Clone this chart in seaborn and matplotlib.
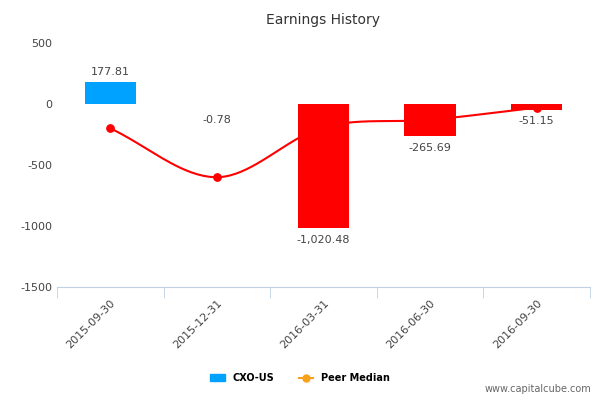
import numpy as np
import pandas as pd
import matplotlib.pyplot as plt
import seaborn as sns
from matplotlib.lines import Line2D
from matplotlib.patches import Patch

dates = ["2015-09-30", "2015-12-31", "2016-03-31", "2016-06-30", "2016-09-30"]
earnings = [177.81, -0.78, -1020.48, -265.69, -51.15]
peer_median = [-200, -600, -190, -130, -30]
peer_marked = [True, True, False, False, True]

df = pd.DataFrame({"date": dates, "earnings": earnings, "peer": peer_median})
df["pos"] = np.arange(len(df))


def smooth(xs, ys, n=40):
    # catmull-rom curve through the points
    xs = np.asarray(xs, float)
    ys = np.asarray(ys, float)
    px = np.r_[2 * xs[0] - xs[1], xs, 2 * xs[-1] - xs[-2]]
    py = np.r_[2 * ys[0] - ys[1], ys, 2 * ys[-1] - ys[-2]]
    outx, outy = [], []
    t = np.linspace(0, 1, n)
    for i in range(1, len(px) - 2):
        for p, out in ((px, outx), (py, outy)):
            p0, p1, p2, p3 = p[i - 1], p[i], p[i + 1], p[i + 2]
            out.extend(0.5 * (2 * p1 + (-p0 + p2) * t
                              + (2 * p0 - 5 * p1 + 4 * p2 - p3) * t ** 2
                              + (-p0 + 3 * p1 - 3 * p2 + p3) * t ** 3))
    return outx, outy


fig = plt.figure(figsize=(6, 4), dpi=100)
ax = fig.add_axes([0.095, 0.2825, 0.888, 0.61])

colors = ["#00a2ff" if v >= 0 else "#ff0000" for v in earnings]
sns.barplot(data=df, x="pos", y="earnings", hue="pos", palette=colors,
            legend=False, width=0.48, ax=ax, saturation=1)

sx, sy = smooth(df["pos"], df["peer"])
ax.plot(sx, sy, color="#ff0000", lw=1.5, zorder=3)
mk = df[peer_marked]
ax.scatter(mk["pos"], mk["peer"], color="#ff0000", s=28, zorder=4)

for x, v in zip(df["pos"], earnings):
    lbl = f"{v:,.2f}"
    if v >= 0:
        ax.text(x, v + 40, lbl, ha="center", va="bottom", fontsize=8, color="#444444")
    else:
        ax.text(x, min(v, -40) - 50, lbl, ha="center", va="top", fontsize=8, color="#444444")

ax.set_xlim(-0.5, 4.5)
ax.set_ylim(-1500, 500)
ax.set_yticks([500, 0, -500, -1000, -1500])
ax.set_yticklabels(["500", "0", "-500", "-1000", "-1500"])
ax.set_xticks(df["pos"])
ax.set_xticklabels(dates, rotation=45, ha="right", rotation_mode="anchor")
ax.set_xticks(np.arange(-0.5, 5, 1), minor=True)
ax.tick_params(axis="x", which="major", length=0, labelsize=8, colors="#444444", pad=8)
ax.tick_params(axis="x", which="minor", length=8, color="#c0d0e0")
ax.tick_params(axis="y", length=0, labelsize=8, colors="#444444")
ax.set_xlabel("")
ax.set_ylabel("")
for s in ["top", "right", "left"]:
    ax.spines[s].set_visible(False)
ax.spines["bottom"].set_color("#c0d0e0")

ax.set_title("Earnings History", fontsize=10, color="#333333", pad=14)

handles = [Patch(color="#00a2ff", label="CXO-US"),
           Line2D([0], [0], color="#f7a21b", marker="o", markersize=5, label="Peer Median")]
fig.legend(handles=handles, loc="lower center", bbox_to_anchor=(0.5, 0.02), ncol=2,
           frameon=False, prop={"size": 7, "weight": "bold"}, handlelength=1.5,
           columnspacing=2.5)
fig.text(0.985, 0.015, "www.capitalcube.com", ha="right", va="bottom", fontsize=7, color="#666666")

fig.savefig("out.png", dpi=100)
